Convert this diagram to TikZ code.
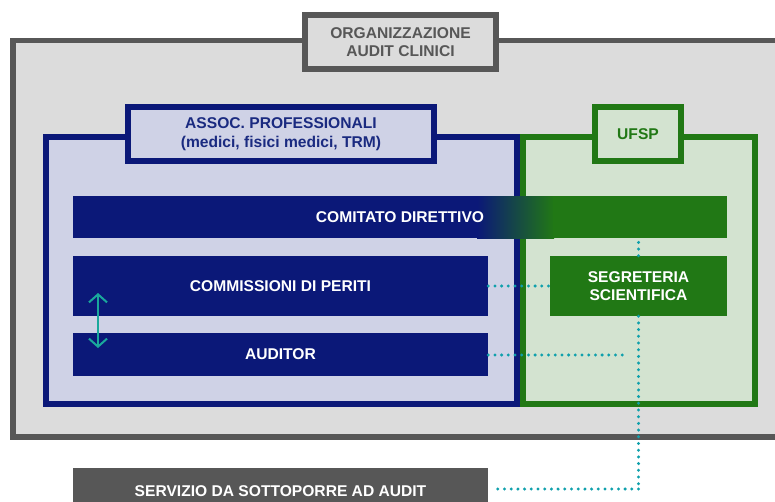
\documentclass[tikz,border=0pt]{standalone}
\usepackage{fontspec}
\setmainfont{Liberation Sans}
\usetikzlibrary{arrows.meta,decorations.markings}
\definecolor{framegray}{HTML}{575757}
\definecolor{panelgray}{HTML}{DCDCDC}
\definecolor{navy}{HTML}{0B1878}
\definecolor{navytext}{HTML}{1A2A80}
\definecolor{lightnavy}{HTML}{CFD2E6}
\definecolor{leaf}{HTML}{217815}
\definecolor{lightleaf}{HTML}{D3E3D0}
\definecolor{dotteal}{HTML}{0FA0AC}
\definecolor{arrowteal}{HTML}{1AA89C}
\tikzset{
  lbl/.style={font=\fontsize{15.6}{18.5}\selectfont\bfseries, align=center, inner sep=0pt},
  bar/.style={draw=none, minimum height=#1, inner sep=0pt},
  dots/.style={draw=none, postaction={decorate, decoration={markings,
      mark=between positions 0 and 1 step 6.7pt with {\fill[dotteal] (0,0) circle (1.65pt);}}}},
}
\begin{document}
\begin{tikzpicture}[x=1pt,y=-1pt]
\useasboundingbox (0,0) rectangle (775,501);
\clip (0,0) rectangle (775,501);

% outer organisation frame
\draw[framegray, line width=5.5pt, fill=panelgray] (13,40.5) rectangle (800,437);
\node[draw=framegray, line width=6pt, fill=panelgray, minimum width=191pt, minimum height=54pt,
      text=framegray, lbl] (org) at (400.5,42) {ORGANIZZAZIONE\\AUDIT CLINICI};

% professional associations frame
\draw[navy, line width=6pt, fill=lightnavy] (46,137) rectangle (517,404);
\node[draw=navy, line width=6pt, fill=lightnavy, minimum width=306pt, minimum height=54pt,
      text=navytext, lbl] (assoc) at (281,134) {ASSOC. PROFESSIONALI\\(medici, fisici medici, TRM)};

% UFSP frame
\draw[leaf, line width=6pt, fill=lightleaf] (523,137) rectangle (755,404);
\node[draw=leaf, line width=6pt, fill=lightleaf, minimum width=86pt, minimum height=54pt,
      text=leaf, lbl] (ufsp) at (638,134) {UFSP};

% steering committee bar, blue to green
\fill[navy] (73,196) rectangle (478,238);
\shade[left color=navy, right color=leaf] (477,196) rectangle (554,238);
\fill[leaf] (553,196) rectangle (727,238);
\node[bar=42pt, minimum width=654pt, text=white, lbl] (comitato) at (400,217.5) {COMITATO DIRETTIVO};

% inner boxes
\node[bar=60pt, minimum width=415pt, fill=navy, text=white, lbl] (commissioni) at (280.5,286) {COMMISSIONI DI PERITI};
\node[bar=43pt, minimum width=415pt, fill=navy, text=white, lbl] (auditor) at (280.5,354.5) {AUDITOR};
\node[bar=60pt, minimum width=177pt, fill=leaf, text=white, lbl] (segreteria) at (638.5,286) {SEGRETERIA\\SCIENTIFICA};

% service under audit
\node[bar=44pt, minimum width=415pt, fill=framegray, text=white, lbl, text depth=0pt] (servizio) at (280.5,490) {\raisebox{-2pt}{SERVIZIO DA SOTTOPORRE AD AUDIT}};

% two-way link between experts and auditors
\coordinate (arrtop) at (98,293);
\coordinate (arrbot) at (98,348);
\draw[arrowteal, line width=2pt, {Straight Barb[length=8pt,width=18pt]}-{Straight Barb[length=8pt,width=18pt]}] (arrtop) -- (arrbot);

% dotted relations
\coordinate (auditend) at (627,355);
\coordinate (corner) at (638.5,489);
\path[dots] (commissioni.east) -- (segreteria.west);
\path[dots] (auditor.east |- auditend) -- (auditend);
\path[dots] (segreteria.north) -- (segreteria.north |- comitato.south);
\path[dots] (segreteria.south) -- (corner);
\path[dots] (corner) -- ([xshift=5pt]servizio.east |- corner);
\end{tikzpicture}
\end{document}
